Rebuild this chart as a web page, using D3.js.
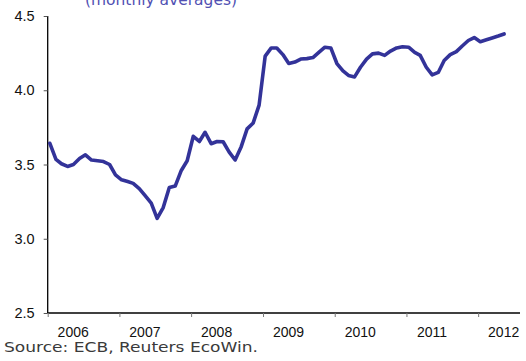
<!DOCTYPE html>
<html>
<head>
<meta charset="utf-8">
<script src="https://cdn.jsdelivr.net/npm/d3@7"></script>
<style>
  html, body { margin: 0; padding: 0; background: #fff; }
  svg { display: block; }
</style>
</head>
<body>
<div id="chart"></div>
<script>
// Monthly averages, Jan 2006 – May 2012
const startYear = 2006;
const startMonth = 0;
const values = [
  3.643, 3.535, 3.505, 3.487, 3.500, 3.540, 3.565, 3.530, 3.525, 3.520, 3.500, 3.430,
  3.397, 3.385, 3.373, 3.338, 3.290, 3.240, 3.137, 3.210, 3.345, 3.355, 3.460, 3.525,
  3.690, 3.655, 3.717, 3.640, 3.655, 3.653, 3.585, 3.530, 3.620, 3.740, 3.780, 3.900,
  4.230, 4.285, 4.285, 4.240, 4.180, 4.190, 4.210, 4.213, 4.220, 4.255, 4.290, 4.285,
  4.180, 4.130, 4.100, 4.090, 4.155, 4.210, 4.245, 4.250, 4.235, 4.264, 4.285, 4.293,
  4.290, 4.255, 4.235, 4.155, 4.103, 4.120, 4.200, 4.240, 4.260, 4.298, 4.335, 4.355,
  4.327, 4.340, 4.352, 4.365, 4.379
];
const yTicks = [2.5, 3.0, 3.5, 4.0, 4.5];
const yearLabels = ["2006", "2007", "2008", "2009", "2010", "2011", "2012"];
const subtitle = "(monthly averages)";
const source = "Source: ECB, Reuters EcoWin.";

const W = 526, H = 361;
const margin = { left: 47.7, top: 16, right: 6, bottom: 48 };

const svg = d3.select("#chart").append("svg")
  .attr("width", W).attr("height", H);

const series = values.map((v, i) => ({
  date: new Date(startYear, startMonth + i, 12),
  value: v
}));

const x = d3.scaleTime()
  .domain([new Date(2006, 0, 1), new Date(2012, 7, 1)])
  .range([margin.left, W - margin.right]);

const y = d3.scaleLinear()
  .domain([2.5, 4.5])
  .range([H - margin.bottom, margin.top]);

// subtitle, partly above the top edge
svg.append("text")
  .attr("x", 161).attr("y", 4.5)
  .attr("text-anchor", "middle")
  .attr("font-family", "'DejaVu Sans', sans-serif")
  .attr("font-size", 16)
  .attr("fill", "#5151b3")
  .attr("textLength", 152)
  .attr("lengthAdjust", "spacingAndGlyphs")
  .text(subtitle);

// y axis
const yAxis = d3.axisLeft(y)
  .tickValues(yTicks)
  .tickFormat(d3.format(".1f"))
  .tickSize(4)
  .tickPadding(9);
const gy = svg.append("g")
  .attr("transform", `translate(${margin.left},0)`)
  .call(yAxis);
gy.select(".domain").attr("stroke", "#000").attr("stroke-width", 1.3)
  .attr("d", `M0,${y(4.5)}V${y(2.5)}`);
gy.selectAll(".tick line").attr("stroke", "#555");
gy.selectAll(".tick text")
  .attr("font-family", "'Liberation Sans', Arial, sans-serif")
  .attr("font-size", 14.5)
  .attr("fill", "#111");

// x axis: ticks at each year start, labels inside the year
const yearStarts = d3.range(2006, 2013).map(yr => new Date(yr, 0, 1));
const xAxis = d3.axisBottom(x)
  .tickValues(yearStarts)
  .tickFormat("")
  .tickSize(4);
const gx = svg.append("g")
  .attr("transform", `translate(0,${y(2.5)})`)
  .call(xAxis);
gx.select(".domain").attr("stroke", "#000").attr("stroke-width", 1.3)
  .attr("d", `M${margin.left},0H${W - margin.right}`);
gx.selectAll(".tick line").attr("stroke", "#777");

svg.append("g").selectAll("text")
  .data(yearLabels)
  .join("text")
  .attr("x", (d, i) => x(yearStarts[i]) + 25.5)
  .attr("y", y(2.5) + 24)
  .attr("text-anchor", "middle")
  .attr("font-family", "'Liberation Sans', Arial, sans-serif")
  .attr("font-size", 14)
  .attr("fill", "#111")
  .text(d => d);

// series line
const line = d3.line()
  .x(d => x(d.date))
  .y(d => y(d.value));
svg.append("path")
  .datum(series)
  .attr("fill", "none")
  .attr("stroke", "#333399")
  .attr("stroke-width", 3.6)
  .attr("stroke-linejoin", "round")
  .attr("stroke-linecap", "round")
  .attr("d", line);

// source note
svg.append("text")
  .attr("x", 4).attr("y", 352)
  .attr("font-family", "'DejaVu Sans', sans-serif")
  .attr("font-size", 14)
  .attr("fill", "#3a3a3a")
  .attr("textLength", 254)
  .attr("lengthAdjust", "spacingAndGlyphs")
  .text(source);
</script>
</body>
</html>
